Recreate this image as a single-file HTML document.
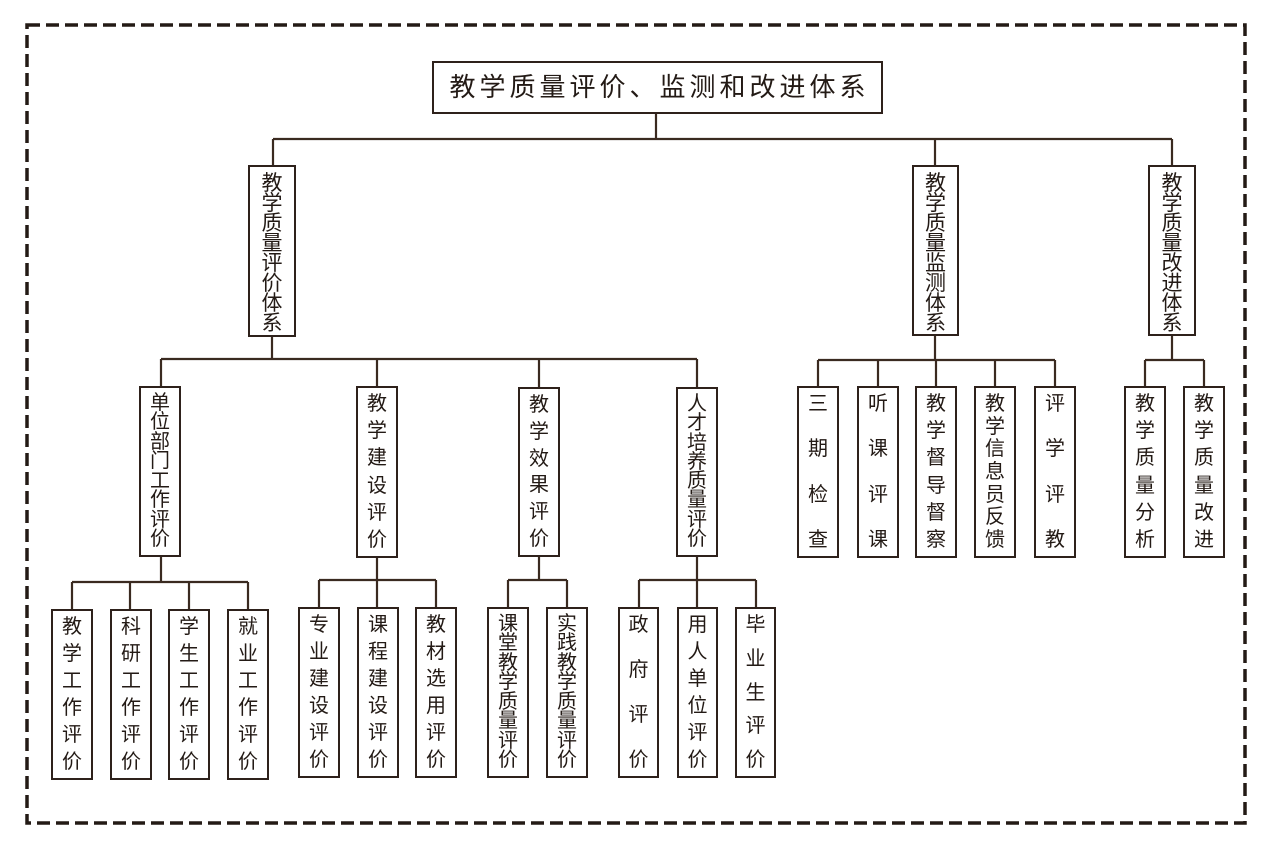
<!DOCTYPE html>
<html><head><meta charset="utf-8"><style>
html,body{margin:0;padding:0;background:#fff;}
body{width:1269px;height:850px;position:relative;overflow:hidden;font-family:"Liberation Sans","Noto Sans CJK SC",sans-serif;color:#231a15;}
svg{position:absolute;left:0;top:0;}
.b{position:absolute;box-sizing:border-box;border:2.5px solid #2e211b;background:#fff;display:flex;flex-direction:column;justify-content:space-between;align-items:center;padding:5px 0;font-size:20px;line-height:22px;}
.b span{display:block;}
.t{position:absolute;left:432px;top:61px;width:451px;height:53px;box-sizing:border-box;border:2.5px solid #2e211b;font-size:26px;letter-spacing:4px;text-align:center;line-height:48px;padding-left:4px;}
.l1{font-size:21px;line-height:20px;padding:7px 0;}
.dense{line-height:19px;padding:6px 0;}
</style></head><body>
<svg width="1269" height="850">
<rect x="27" y="25" width="1218" height="798" fill="none" stroke="#231a15" stroke-width="3.5" stroke-dasharray="13 6"/>
<g stroke="#3a2a20" stroke-width="2.2" fill="none">
<path d="M656 113V139M273 139H1172M273 139V165M935 139V165M1172 139V165"/>
<path d="M272 336V359M161 359H697M161 359V386M377 359V386M539 359V387M697 359V387"/>
<path d="M935 336V360M818 360H1055M818 360V386M878 360V386M936 360V386M995 360V386M1055 360V386"/>
<path d="M1172 336V360M1145 360H1204M1145 360V386M1204 360V386"/>
<path d="M161 557V582M72 582H248M72 582V609M130 582V609M189 582V609M248 582V609"/>
<path d="M377 558V580M319 580H436M319 580V607M377 580V607M436 580V607"/>
<path d="M539 557V580M508 580H567M508 580V607M567 580V607"/>
<path d="M697 557V580M639 580H756M639 580V607M697 580V607M756 580V607"/>
</g>
</svg>
<div class="t">教学质量评价、监测和改进体系</div>

<div class="b l1" style="left:248px;top:165px;width:48px;height:172px"><span>教</span><span>学</span><span>质</span><span>量</span><span>评</span><span>价</span><span>体</span><span>系</span></div>
<div class="b l1" style="left:912px;top:165px;width:47px;height:171px"><span>教</span><span>学</span><span>质</span><span>量</span><span>监</span><span>测</span><span>体</span><span>系</span></div>
<div class="b l1" style="left:1148px;top:165px;width:48px;height:171px"><span>教</span><span>学</span><span>质</span><span>量</span><span>改</span><span>进</span><span>体</span><span>系</span></div>

<div class="b dense" style="left:139px;top:386px;width:42px;height:171px"><span>单</span><span>位</span><span>部</span><span>门</span><span>工</span><span>作</span><span>评</span><span>价</span></div>
<div class="b" style="left:356px;top:386px;width:42px;height:172px"><span>教</span><span>学</span><span>建</span><span>设</span><span>评</span><span>价</span></div>
<div class="b" style="left:518px;top:387px;width:42px;height:170px"><span>教</span><span>学</span><span>效</span><span>果</span><span>评</span><span>价</span></div>
<div class="b dense" style="left:676px;top:387px;width:42px;height:170px"><span>人</span><span>才</span><span>培</span><span>养</span><span>质</span><span>量</span><span>评</span><span>价</span></div>

<div class="b" style="left:797px;top:386px;width:42px;height:172px"><span>三</span><span>期</span><span>检</span><span>查</span></div>
<div class="b" style="left:857px;top:386px;width:42px;height:172px"><span>听</span><span>课</span><span>评</span><span>课</span></div>
<div class="b" style="left:915px;top:386px;width:42px;height:172px"><span>教</span><span>学</span><span>督</span><span>导</span><span>督</span><span>察</span></div>
<div class="b" style="left:974px;top:386px;width:42px;height:172px"><span>教</span><span>学</span><span>信</span><span>息</span><span>员</span><span>反</span><span>馈</span></div>
<div class="b" style="left:1034px;top:386px;width:42px;height:172px"><span>评</span><span>学</span><span>评</span><span>教</span></div>
<div class="b" style="left:1124px;top:386px;width:42px;height:172px"><span>教</span><span>学</span><span>质</span><span>量</span><span>分</span><span>析</span></div>
<div class="b" style="left:1183px;top:386px;width:42px;height:172px"><span>教</span><span>学</span><span>质</span><span>量</span><span>改</span><span>进</span></div>

<div class="b" style="left:51px;top:609px;width:42px;height:171px"><span>教</span><span>学</span><span>工</span><span>作</span><span>评</span><span>价</span></div>
<div class="b" style="left:110px;top:609px;width:42px;height:171px"><span>科</span><span>研</span><span>工</span><span>作</span><span>评</span><span>价</span></div>
<div class="b" style="left:168px;top:609px;width:42px;height:171px"><span>学</span><span>生</span><span>工</span><span>作</span><span>评</span><span>价</span></div>
<div class="b" style="left:227px;top:609px;width:42px;height:171px"><span>就</span><span>业</span><span>工</span><span>作</span><span>评</span><span>价</span></div>

<div class="b" style="left:298px;top:607px;width:42px;height:171px"><span>专</span><span>业</span><span>建</span><span>设</span><span>评</span><span>价</span></div>
<div class="b" style="left:357px;top:607px;width:42px;height:171px"><span>课</span><span>程</span><span>建</span><span>设</span><span>评</span><span>价</span></div>
<div class="b" style="left:415px;top:607px;width:42px;height:171px"><span>教</span><span>材</span><span>选</span><span>用</span><span>评</span><span>价</span></div>

<div class="b dense" style="left:487px;top:607px;width:42px;height:171px"><span>课</span><span>堂</span><span>教</span><span>学</span><span>质</span><span>量</span><span>评</span><span>价</span></div>
<div class="b dense" style="left:546px;top:607px;width:42px;height:171px"><span>实</span><span>践</span><span>教</span><span>学</span><span>质</span><span>量</span><span>评</span><span>价</span></div>

<div class="b" style="left:618px;top:607px;width:41px;height:171px"><span>政</span><span>府</span><span>评</span><span>价</span></div>
<div class="b" style="left:677px;top:607px;width:41px;height:171px"><span>用</span><span>人</span><span>单</span><span>位</span><span>评</span><span>价</span></div>
<div class="b" style="left:735px;top:607px;width:41px;height:171px"><span>毕</span><span>业</span><span>生</span><span>评</span><span>价</span></div>
</body></html>
